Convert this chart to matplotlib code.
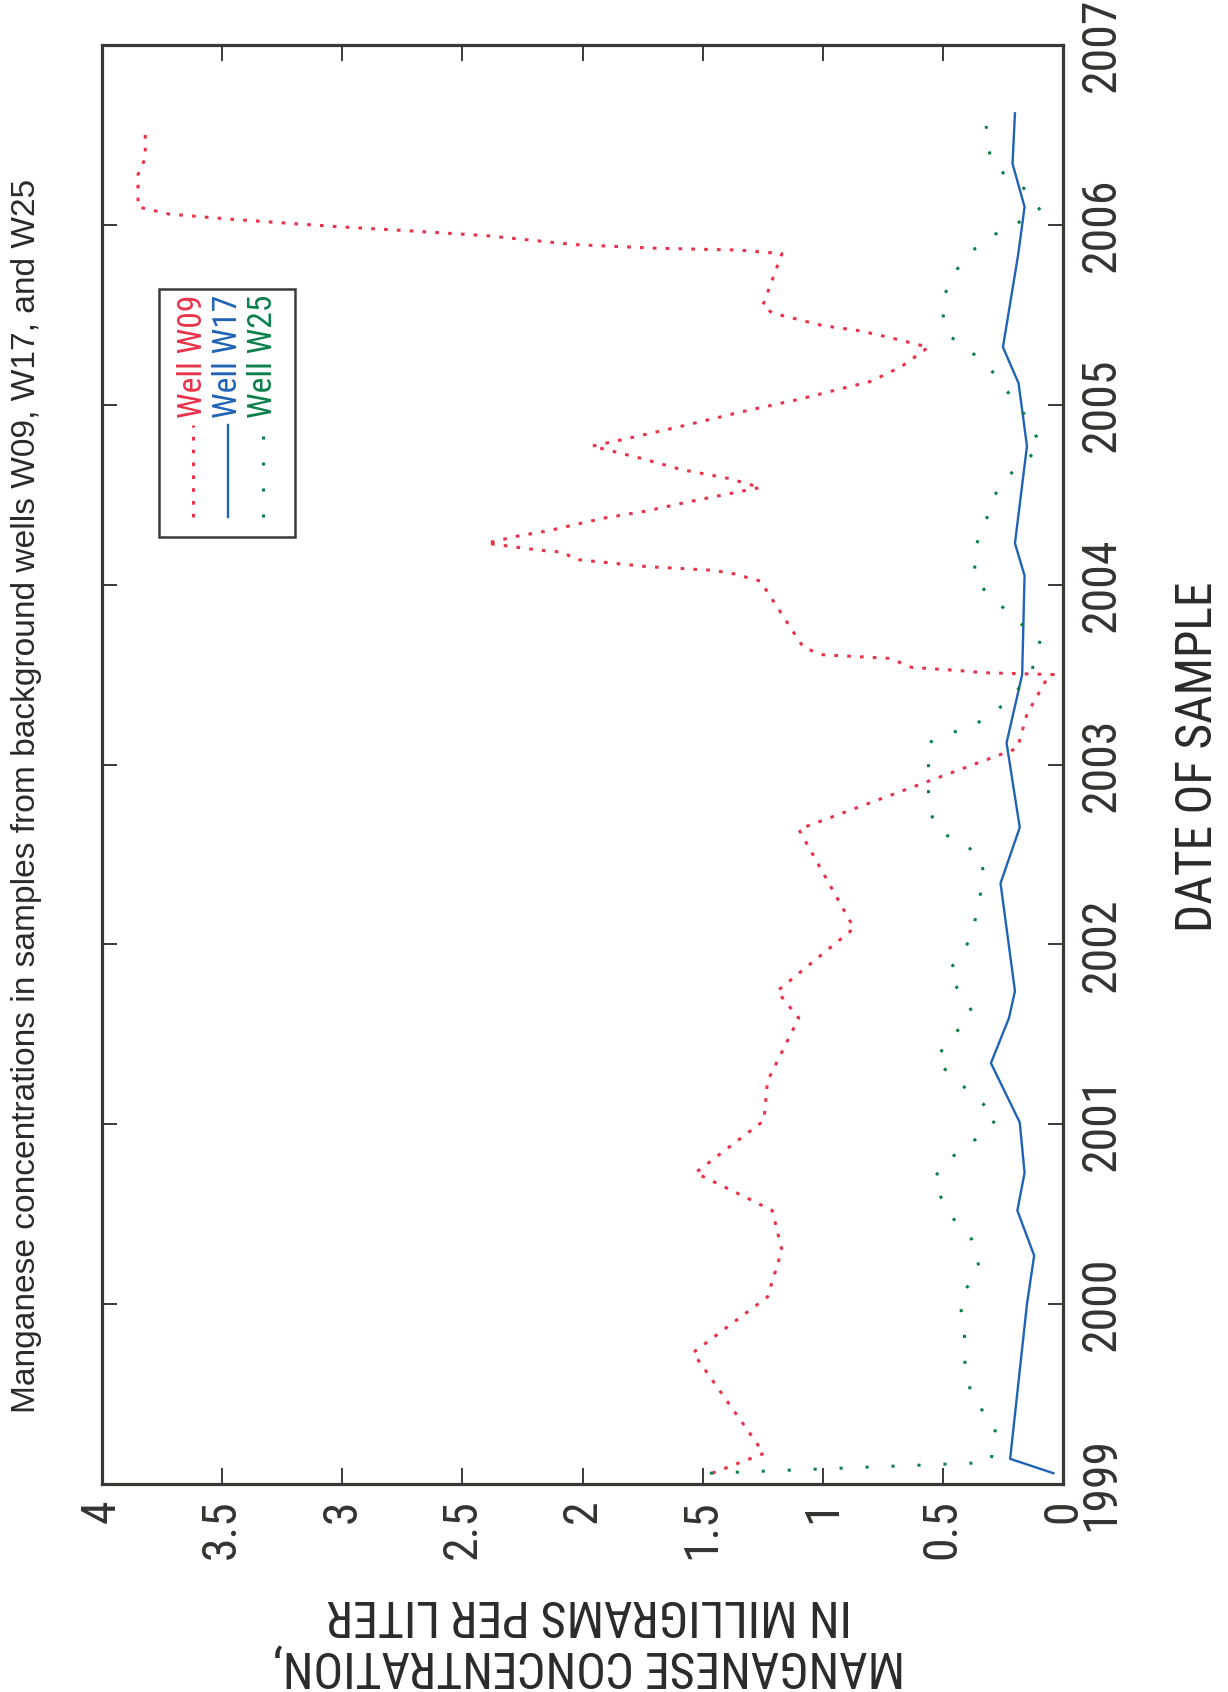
import matplotlib
matplotlib.use("Agg")
import matplotlib.pyplot as plt
from matplotlib.patches import Rectangle
from matplotlib.lines import Line2D
from matplotlib import font_manager as fm
from matplotlib.textpath import TextPath
from matplotlib.font_manager import FontProperties

# ---------------- data (decimal year, mg/L) ----------------
w09_dates = [1999.06, 1999.17, 1999.73, 1999.86, 2000.04, 2000.30, 2000.52, 2000.60,
             2000.73, 2001.02, 2001.24, 2001.59, 2001.74, 2002.09, 2002.64, 2003.09,
             2003.28, 2003.47, 2003.50, 2003.51, 2003.52, 2003.54, 2003.59, 2003.61,
             2003.65, 2004.02, 2004.06, 2004.08, 2004.10, 2004.14, 2004.18, 2004.19,
             2004.23, 2004.27, 2004.30, 2004.34, 2004.37, 2004.41, 2004.46, 2004.54,
             2004.59, 2004.64, 2004.70, 2004.77, 2004.81, 2004.88, 2004.96, 2005.03,
             2005.13, 2005.21, 2005.32, 2005.37, 2005.41, 2005.44, 2005.51, 2005.55,
             2005.84, 2005.86, 2005.87, 2005.89, 2005.94, 2005.97, 2005.99, 2006.03,
             2006.06, 2006.10, 2006.28, 2006.37, 2006.55]
w09_conc = [1.46, 1.245, 1.54, 1.41, 1.23, 1.17, 1.21, 1.33,
            1.53, 1.245, 1.23, 1.10, 1.19, 0.87, 1.10, 0.19,
            0.15, 0.07, 0.04, 0.33, 0.41, 0.63, 0.72, 1.00,
            1.08, 1.26, 1.37, 1.46, 1.73, 2.03, 2.08, 2.17,
            2.40, 2.27, 2.14, 2.01, 1.91, 1.73, 1.56, 1.26,
            1.39, 1.59, 1.75, 1.96, 1.82, 1.59, 1.34, 1.10,
            0.80, 0.675, 0.56, 0.71, 0.84, 1.00, 1.21, 1.25,
            1.17, 1.35, 1.69, 2.03, 2.40, 2.76, 3.02, 3.45,
            3.72, 3.85, 3.85, 3.82, 3.82]

w17_dates = [1999.06, 1999.14, 2000.00, 2000.27, 2000.52, 2000.73, 2001.01, 2001.34,
             2001.59, 2001.74, 2002.34, 2002.65, 2003.12, 2003.50, 2004.05, 2004.23,
             2004.77, 2005.12, 2005.32, 2005.84, 2006.10, 2006.34, 2006.62]
w17_conc = [0.04, 0.22, 0.15, 0.12, 0.19, 0.16, 0.18, 0.30,
            0.225, 0.20, 0.26, 0.18, 0.235, 0.17, 0.16, 0.20,
            0.15, 0.185, 0.25, 0.186, 0.16, 0.21, 0.20]

w25_dates = [1999.06, 1999.12, 1999.32, 1999.48, 1999.69, 1999.84, 2000.02, 2000.21,
             2000.36, 2000.48, 2000.67, 2000.77, 2000.87, 2000.95, 2001.04, 2001.15,
             2001.36, 2001.50, 2001.63, 2001.84, 2002.04, 2002.21, 2002.37, 2002.49,
             2002.57, 2002.63, 2002.76, 2003.12, 2003.17, 2003.21, 2003.28, 2003.36,
             2003.52, 2003.69, 2003.80, 2003.91, 2004.02, 2004.19, 2004.36, 2004.54,
             2004.67, 2004.76, 2004.91, 2005.08, 2005.23, 2005.39, 2005.56, 2005.74,
             2005.87, 2005.95, 2006.01, 2006.08, 2006.18, 2006.26, 2006.34, 2006.55]
w25_conc = [1.47, 0.30, 0.28, 0.38, 0.41, 0.41, 0.43, 0.35,
            0.38, 0.46, 0.54, 0.51, 0.41, 0.33, 0.27, 0.365,
            0.535, 0.45, 0.38, 0.48, 0.38, 0.355, 0.33, 0.34,
            0.43, 0.52, 0.56, 0.56, 0.48, 0.38, 0.30, 0.22,
            0.13, 0.095, 0.19, 0.28, 0.365, 0.37, 0.32, 0.27,
            0.18, 0.09, 0.14, 0.235, 0.32, 0.48, 0.51, 0.45,
            0.365, 0.28, 0.19, 0.095, 0.14, 0.22, 0.30, 0.32]

conc_ticks = [0, 0.5, 1, 1.5, 2, 2.5, 3, 3.5, 4]
conc_ticklabels = ["0", "0.5", "1", "1.5", "2", "2.5", "3", "3.5", "4"]
year_ticks = [1999, 2000, 2001, 2002, 2003, 2004, 2005, 2006, 2007]
year_ticklabels = [str(y) for y in year_ticks]

series_labels = ["Well W09", "Well W17", "Well W25"]
title = "Manganese concentrations in samples from background wells W09, W17, and W25"
date_label = "DATE OF SAMPLE"
conc_label_lines = ["MANGANESE CONCENTRATION,", "IN MILLIGRAMS PER LITER"]

# ---------------- fonts ----------------
available = {f.name for f in fm.fontManager.ttflist}

def pick(cands):
    for c in cands:
        if c in available:
            return c
    return "DejaVu Sans"

NARROW = pick(["Liberation Sans Narrow", "Roboto Condensed", "Arial Narrow", "Archivo Narrow",
               "PT Sans Narrow", "Open Sans Condensed", "Sofia Sans Condensed",
               "Fira Sans Condensed", "Barlow Condensed", "IBM Plex Sans Condensed",
               "Noto Sans Display", "DejaVu Sans"])
REGULAR = pick(["Liberation Sans", "Arimo", "Roboto", "DejaVu Sans"])
plt.rcParams["font.family"] = [NARROW, "DejaVu Sans"]


def fit(text, target_px, family):
    w = TextPath((0, 0), text, size=100, prop=FontProperties(family=family)).get_extents().width
    # TextPath units are points at size 100; 1 pt = 100/72 px at dpi 100
    return 100 * target_px * 0.72 / w

# ---------------- style ----------------
RED = "#e8334a"
BLUE = "#1f63b5"
GREEN = "#0b8049"
DARK = "#3a3a35"
TXT = "#2a2a28"

W, H = 1228, 1692
fig = plt.figure(figsize=(W / 100, H / 100), dpi=100)
ax_l, ax_r, ax_t, ax_b = 102, 1063, 45, 1484
ax = fig.add_axes([ax_l / W, 1 - ax_b / H, (ax_r - ax_l) / W, (ax_b - ax_t) / H])

RED_LS = (0, (1.2, 3.0))
GREEN_LS = (0, (1.0, 7.5))
ax.plot(w09_conc, w09_dates, color=RED, lw=2.2, linestyle=RED_LS)
ax.plot(w17_conc, w17_dates, color=BLUE, lw=1.7, linestyle="-")
ax.plot(w25_conc, w25_dates, color=GREEN, lw=2.2, linestyle=GREEN_LS)

tick_fs = fit("2007", 90, NARROW)
label_fs = fit(conc_label_lines[0], 626, NARROW)
legend_fs = fit(series_labels[0], 120, NARROW)
title_fs = fit(title, 1233, REGULAR)

ax.set_xlim(4, 0)
ax.set_ylim(1999, 2007)
ax.set_xticks(conc_ticks)
ax.set_xticklabels(conc_ticklabels, rotation=90)
ax.set_yticks(year_ticks)
ax.set_yticklabels(year_ticklabels, rotation=90, va="center")

ax.tick_params(axis="x", direction="in", length=11.5, width=1.4, color=DARK,
               top=True, bottom=True, labelsize=tick_fs, labelcolor="#333330", pad=11)
ax.tick_params(axis="y", direction="in", length=11, width=1.4, color=DARK,
               left=True, right=True, labelleft=False, labelright=True,
               labelsize=tick_fs, labelcolor="#333330", pad=11)
for sp in ax.spines.values():
    sp.set_linewidth(2.3)
    sp.set_color(DARK)

# ---------------- legend (drawn manually, rotated) ----------------
def ax_fx(px):
    return (px - ax_l) / (ax_r - ax_l)

def ax_fy(py):
    return (ax_b - py) / (ax_b - ax_t)

box = Rectangle((ax_fx(159), ax_fy(537)), ax_fx(295) - ax_fx(159), ax_fy(289) - ax_fy(537),
                transform=ax.transAxes, fill=False, edgecolor=DARK, lw=1.8, zorder=5)
ax.add_patch(box)
leg_cols = [193, 228, 263]
leg_colors = [RED, BLUE, GREEN]
leg_styles = [RED_LS, "-", GREEN_LS]
for cx, col, ls, lab in zip(leg_cols, leg_colors, leg_styles, series_labels):
    ax.add_line(Line2D([ax_fx(cx), ax_fx(cx)], [ax_fy(517), ax_fy(425)], transform=ax.transAxes,
                       color=col, lw=2.2 if ls != "-" else 1.7, linestyle=ls, zorder=6))
    ax.text(ax_fx(cx), ax_fy(418), lab, transform=ax.transAxes, rotation=90,
            ha="center", va="bottom", color=col, fontsize=legend_fs, zorder=6)

# ---------------- titles and labels ----------------
fig.text(27 / W, 1 - 796 / H, title, rotation=90, ha="center", va="center",
         fontsize=title_fs, color=TXT, family=[REGULAR, "DejaVu Sans"])
fig.text(1198 / W, 1 - 757 / H, date_label, rotation=90, ha="center", va="center",
         fontsize=label_fs, color=TXT)
fig.text(589 / W, 1 - 1640 / H, "\n".join(conc_label_lines), rotation=180, ha="center",
         va="center", fontsize=label_fs, color=TXT, linespacing=1.1, multialignment="center")

fig.savefig("out.png", dpi=100, facecolor="white")
